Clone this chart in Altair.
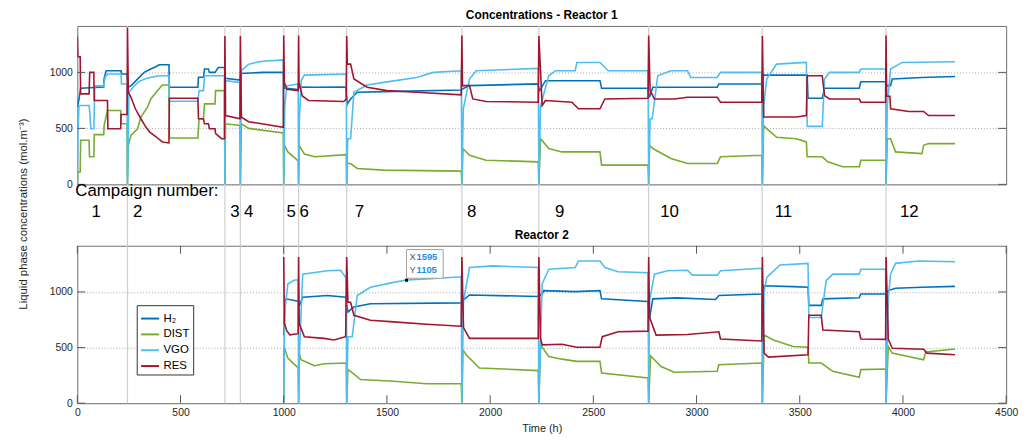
import altair as alt
import pandas as pd

# ---------------- data ----------------
SERIES = ["H₂", "DIST", "VGO", "RES"]
COLORS = ["#0072BD", "#77AC30", "#4DBEEE", "#A2142F"]

CAMPAIGN_STARTS = [243, 715, 790, 1000, 1072, 1305, 1863, 2236, 2768, 3318, 3918]
CAMPAIGN_LABELS = ["1", "2", "3", "4", "5", "6", "7", "8", "9", "10", "11", "12"]
CAMPAIGN_LABEL_T = [91, 293, 763, 830, 1036, 1099, 1367, 1910, 2337, 2869, 3421, 4031]

Y_TICKS = [0, 500, 1000]
X_TICKS = [0, 500, 1000, 1500, 2000, 2500, 3000, 3500, 4000, 4500]

DATATIP_T = [1595]
DATATIP_V = [1105]

# Reactor 1
R1_H2_T = [0, 8, 16, 128, 130, 140, 212, 214, 241,
           247, 260, 276, 300, 324, 356, 380, 396, 444, 446, 584, 587, 611, 616, 635, 640, 667, 683, 713,
           717, 788,
           792, 900, 998,
           1002, 1070,
           1074, 1150, 1300,
           1308, 1324, 1356, 1484, 1860,
           1866, 1900, 2230,
           2240, 2268, 2532, 2540, 2764,
           2772, 2788, 3100, 3108, 3316,
           3325, 3536, 3540, 3609, 3620, 3788, 3796, 3916,
           3921, 3940, 3948, 4092, 4252]
R1_H2_V = [690, 760, 858, 870, 947, 1015, 1015, 985, 985,
           867, 882, 911, 956, 1000, 1030, 1050, 1068, 1068, 867, 867, 956, 956, 1030, 1030, 1000, 1000, 1044, 1044,
           947, 932,
           990, 1000, 1000,
           860, 846,
           870, 867, 870,
           719, 763, 823, 828, 843,
           852, 882, 897,
           837, 926, 926, 858, 858,
           778, 867, 867, 897, 897,
           976, 976, 769, 769, 858, 858, 917, 917,
           882, 882, 941, 955, 964]

R1_DIST_T = [0, 2, 14, 16, 57, 59, 80, 82, 128, 130, 146, 210, 212, 241,
             243, 247, 260, 292, 308, 340, 356, 388, 412, 444, 446, 584, 590, 611, 616, 667, 670, 713,
             715, 718, 788,
             790, 795, 830, 998,
             1000, 1003, 1020, 1070,
             1072, 1074, 1100, 1150, 1303,
             1305, 1308, 1324, 1356, 1484, 1860,
             1863, 1868, 1900, 1980, 2233,
             2236, 2244, 2284, 2348, 2532, 2540, 2765,
             2768, 2772, 2788, 2876, 2956, 3100, 3116, 3316,
             3319, 3325, 3340, 3388, 3484, 3532, 3536, 3609, 3636, 3708, 3788, 3796, 3916,
             3918, 3924, 3940, 3964, 4092, 4100, 4124, 4252]
R1_DIST_V = [0, 110, 110, 394, 394, 246, 246, 444, 444, 527, 660, 660, 541, 541,
             0, 349, 438, 497, 600, 690, 763, 837, 888, 888, 414, 414, 586, 586, 719, 719, 837, 837,
             0, 541, 527,
             0, 540, 500, 460,
             0, 350, 290, 210,
             0, 350, 270, 246, 266,
             0, 186, 186, 142, 127, 118,
             0, 320, 260, 216, 201,
             0, 408, 320, 290, 290, 172, 172,
             0, 350, 320, 231, 186, 186, 246, 260,
             0, 527, 497, 420, 408, 379, 246, 246, 201, 157, 157, 216, 216,
             0, 408, 408, 290, 275, 349, 364, 364]

R1_VGO_T = [0, 3, 8, 57, 60, 66, 80, 85, 128, 135, 148, 212, 214, 241,
            243, 250, 276, 300, 340, 396, 444, 446, 584, 590, 611, 616, 713,
            715, 718, 788,
            790, 795, 830, 870, 900, 998,
            1000, 1005, 1015, 1070,
            1072, 1076, 1085, 1100, 1303,
            1305, 1310, 1324, 1340, 1404, 1484, 1644, 1724, 1860,
            1863, 1870, 1900, 1932, 2233,
            2236, 2244, 2284, 2316, 2412, 2420, 2532, 2572, 2765,
            2768, 2775, 2785, 2812, 2876, 2956, 2972, 3100, 3116, 3316,
            3319, 3325, 3340, 3388, 3532, 3536, 3609, 3620, 3644, 3788, 3796, 3916,
            3918, 3924, 3940, 3996, 4252]
R1_VGO_V = [0, 450, 704, 704, 650, 497, 497, 880, 880, 960, 985, 985, 896, 896,
            0, 823, 880, 920, 950, 970, 970, 743, 743, 837, 837, 970, 970,
            0, 926, 911,
            0, 1015, 1074, 1090, 1100, 1112,
            0, 700, 880, 896,
            0, 600, 930, 976, 985,
            0, 408, 408, 823, 888, 911, 955, 1000, 1015,
            0, 675, 941, 1015, 1036,
            0, 700, 970, 1015, 1015, 1089, 1089, 1015, 1015,
            0, 586, 586, 970, 1015, 1015, 955, 955, 1000, 1000,
            0, 700, 941, 1074, 1089, 518, 518, 941, 1000, 1000, 1030, 1030,
            0, 700, 1030, 1089, 1095]

R1_RES_T = [0, 3, 14, 16, 57, 60, 80, 82, 146, 148, 210, 212, 241,
            243, 247, 260, 281, 308, 332, 351, 383, 412, 444, 446, 584, 587, 611, 616, 635, 640, 667, 670, 699, 713,
            715, 718, 788,
            790, 795, 830, 998,
            1000, 1003, 1015, 1070,
            1072, 1074, 1090, 1120, 1290, 1303,
            1305, 1308, 1324, 1340, 1404, 1500, 1644, 1860,
            1863, 1866, 1900, 1916, 1980, 2233,
            2236, 2252, 2268, 2396, 2428, 2532, 2556, 2765,
            2768, 2775, 2796, 2892, 2956, 3100, 3116, 3316,
            3319, 3325, 3484, 3532, 3536, 3609, 3620, 3644, 3788, 3796, 3916,
            3918, 3921, 3937, 3940, 4028, 4100, 4124, 4252]
R1_RES_V = [1320, 1140, 1140, 808, 808, 1000, 1000, 749, 749, 497, 497, 624, 624,
            1400, 823, 778, 675, 586, 512, 467, 423, 379, 370, 769, 769, 586, 586, 541, 541, 497, 497, 453, 408, 408,
            1325, 615, 586,
            1325, 600, 560, 510,
            1330, 911, 850, 837,
            1330, 911, 790, 749, 740, 760,
            1325, 1074, 1074, 941, 867, 837, 823, 799,
            1330, 882, 882, 763, 740, 734,
            1325, 704, 749, 734, 675, 675, 763, 769,
            1330, 837, 763, 763, 778, 778, 734, 734,
            1325, 601, 601, 615, 970, 970, 793, 763, 763, 734, 734,
            1330, 787, 787, 675, 651, 651, 615, 615]

# Reactor 2
R2_H2_T = [1000, 1008, 1070,
           1076, 1092, 1212, 1300,
           1311, 1340, 1420, 1860,
           1871, 1900, 2230,
           2252, 2260, 2412, 2532, 2540, 2764,
           2772, 2788, 2908, 3092, 3108, 3316,
           3327, 3468, 3540, 3544, 3604, 3612, 3788, 3796, 3916,
           3929, 3964, 4092, 4252]
R2_H2_V = [612, 938, 917,
           880, 953, 968, 953,
           820, 864, 894, 902,
           929, 973, 959,
           982, 1012, 1003, 1012, 938, 914,
           760, 938, 947, 932, 968, 982,
           1056, 1048, 1042, 879, 879, 938, 947, 982, 982,
           1012, 1033, 1042, 1050]

R2_DIST_T = [1000, 1001, 1020, 1070,
             1072, 1075, 1084, 1148, 1196, 1303,
             1305, 1311, 1324, 1372, 1532, 1692, 1860,
             1863, 1868, 1884, 1948, 2233,
             2236, 2244, 2284, 2348, 2420, 2532, 2540, 2765,
             2768, 2777, 2828, 2892, 3100, 3108, 3316,
             3319, 3327, 3372, 3468, 3540, 3544, 3604, 3660, 3788, 3796, 3916,
             3918, 3929, 3948, 4100, 4110, 4252]
R2_DIST_V = [0, 509, 405, 317,
             0, 450, 391, 337, 355, 361,
             0, 302, 287, 213, 198, 175, 175,
             0, 479, 435, 317, 293,
             0, 524, 420, 396, 376, 376, 272, 228,
             0, 426, 330, 278, 287, 346, 361,
             0, 612, 568, 509, 503, 361, 361, 287, 234, 302, 308,
             0, 509, 450, 391, 460, 488]

R2_VGO_T = [1000, 1004, 1020, 1052, 1070,
            1072, 1076, 1092, 1212, 1276, 1300, 1303,
            1305, 1311, 1332, 1356, 1420, 1532, 1596, 1692, 1860,
            1863, 1871, 1900, 2012, 2233,
            2236, 2252, 2284, 2412, 2428, 2532, 2556, 2620, 2765,
            2768, 2772, 2796, 2860, 2956, 2980, 3100, 3116, 3316,
            3319, 3327, 3340, 3404, 3540, 3544, 3604, 3628, 3660, 3788, 3796, 3916,
            3918, 3929, 3940, 3964, 4076, 4252]
R2_VGO_V = [0, 805, 1071, 1107, 1107,
            0, 450, 1160, 1190, 1195, 1130, 1130,
            0, 598, 598, 968, 1042, 1086, 1107, 1116, 1136,
            0, 923, 1219, 1234, 1219,
            0, 1071, 1204, 1219, 1278, 1278, 1219, 1181, 1172,
            0, 923, 1160, 1190, 1195, 1151, 1151, 1190, 1213,
            0, 1000, 1130, 1243, 1257, 770, 770, 1101, 1160, 1160, 1204, 1204,
            0, 950, 1160, 1257, 1278, 1272]

R2_RES_T = [1000, 1003, 1015, 1030, 1070,
            1072, 1075, 1100, 1196, 1244, 1300,
            1305, 1311, 1324, 1340, 1420, 1532, 1692, 1860,
            1863, 1871, 1900, 2233,
            2236, 2244, 2252, 2348, 2420, 2532, 2543, 2620, 2765,
            2768, 2772, 2804, 2956, 3108, 3116, 3316,
            3319, 3327, 3348, 3540, 3544, 3604, 3612, 3788, 3796, 3916,
            3918, 3929, 3948, 4100, 4116, 4252]
R2_RES_V = [1314, 720, 650, 615, 625,
            1314, 716, 598, 583, 568, 598,
            1314, 908, 908, 790, 746, 731, 710, 692,
            1314, 680, 583, 583,
            1314, 583, 524, 530, 503, 503, 598, 642, 648,
            1314, 775, 612, 618, 642, 577, 559,
            1314, 450, 414, 435, 790, 790, 657, 642, 577, 574,
            1314, 574, 494, 485, 450, 435]

# ---------------- layout / style ----------------
W, H_TOP, H_BOT = 938, 160, 159
YMAX = 1415
FONT = "Liberation Sans"
GAP = 62


def series_frame(pairs):
    rows = []
    for name, ts, vs in pairs:
        for i, (t, v) in enumerate(zip(ts, vs)):
            rows.append({"series": name, "t": t, "v": v, "i": i})
    return pd.DataFrame(rows)


r1 = series_frame([("H₂", R1_H2_T, R1_H2_V), ("DIST", R1_DIST_T, R1_DIST_V),
                   ("VGO", R1_VGO_T, R1_VGO_V), ("RES", R1_RES_T, R1_RES_V)])
r2 = series_frame([("H₂", R2_H2_T, R2_H2_V), ("DIST", R2_DIST_T, R2_DIST_V),
                   ("VGO", R2_VGO_T, R2_VGO_V), ("RES", R2_RES_T, R2_RES_V)])

camp_df = pd.DataFrame({"t": CAMPAIGN_STARTS})
lab_df = pd.DataFrame({"t": CAMPAIGN_LABEL_T, "lab": CAMPAIGN_LABELS})
ytick_df = pd.DataFrame({"v": Y_TICKS})
xtick_df = pd.DataFrame({"t": X_TICKS})
tip_df = pd.DataFrame({"t": DATATIP_T, "v": DATATIP_V,
                       "xs": [str(t) for t in DATATIP_T], "ys": [str(v) for v in DATATIP_V],
                       "xl": ["X"], "yl": ["Y"]})

x_scale = alt.Scale(domain=[0, 4500], nice=False, zero=False)
y_scale = alt.Scale(domain=[0, YMAX], nice=False, zero=True)
color_scale = alt.Scale(domain=SERIES, range=COLORS)

Y_AXIS = alt.Axis(values=Y_TICKS, title=None, ticks=False, domain=False, grid=True, format="d",
                  gridDash=[1, 2], gridColor="#8c8c8c", gridWidth=0.8,
                  labelFontSize=10.5, labelColor="#262626", labelPadding=5)
X_AXIS_BOT = alt.Axis(values=X_TICKS, title="Time (h)", ticks=False, domain=False, grid=False, format="d",
                      labelFontSize=10.5, labelColor="#262626", labelPadding=4,
                      titleFontSize=11, titleFontWeight="normal", titleColor="#262626",
                      titlePadding=5, labelFlush=False)

TICK = 8
TICK_COLOR = "#555555"


def X(axis):
    return alt.X("t:Q", scale=x_scale, axis=axis)


def Y():
    return alt.Y("v:Q", scale=y_scale, axis=Y_AXIS)


def build_panel(df, height, title, x_axis, legend, rule_len, extras):
    rules = alt.Chart(camp_df).mark_rule(color="#cfcfcf", strokeWidth=1.2, clip=False).encode(
        x=X(x_axis), y=alt.value(0), y2=alt.value(rule_len))
    lines = alt.Chart(df).mark_line(strokeWidth=1.6, clip=True).encode(
        x=X(x_axis), y=Y(),
        color=alt.Color("series:N", scale=color_scale, legend=legend),
        order=alt.Order("i:Q"),
    )
    left = alt.Chart(ytick_df).mark_rule(color=TICK_COLOR).encode(
        y=Y(), x=alt.value(0), x2=alt.value(TICK))
    right = alt.Chart(ytick_df).mark_rule(color=TICK_COLOR).encode(
        y=Y(), x=alt.value(W - TICK), x2=alt.value(W))
    ttl = alt.Chart(pd.DataFrame({"s": [title]})).mark_text(
        fontSize=12, fontWeight="bold", color="black", baseline="middle", align="center"
    ).encode(text="s:N", x=alt.value(W / 2), y=alt.value(-11))
    return alt.layer(rules, lines, left, right, ttl, *extras).properties(width=W, height=height)


# ---------------- top panel extras ----------------
camp_head = alt.Chart(pd.DataFrame({"s": ["Campaign number:"]})).mark_text(
    fontSize=17, color="black", align="left", baseline="middle"
).encode(text="s:N", x=alt.value(-2), y=alt.value(167))

camp_nums = alt.Chart(lab_df).mark_text(
    fontSize=17, color="black", align="center", baseline="middle"
).encode(x=X(None), y=alt.value(188), text="lab:N")

y_title = alt.Chart(pd.DataFrame({"s": ["Liquid phase concentrations (mol.m⁻³)"]})).mark_text(
    fontSize=11.5, color="#262626", angle=270, align="center", baseline="middle"
).encode(text="s:N", x=alt.value(-54), y=alt.value(190))

top = build_panel(r1, H_TOP, "Concentrations - Reactor 1", None, None, H_TOP + GAP,
                  [camp_head, camp_nums, y_title])

# ---------------- bottom panel extras ----------------
x_ticks_bottom = alt.Chart(xtick_df).mark_rule(color=TICK_COLOR).encode(
    x=X(X_AXIS_BOT), y=alt.value(H_BOT - TICK), y2=alt.value(H_BOT))
x_ticks_top = alt.Chart(xtick_df).mark_rule(color=TICK_COLOR).encode(
    x=X(X_AXIS_BOT), y=alt.value(0), y2=alt.value(TICK))

tip_box = alt.Chart(tip_df).mark_rect(
    fill="white", stroke="#a0a0a0", strokeWidth=1, xOffset=0, x2Offset=37, yOffset=-2, y2Offset=-31
).encode(x=X(X_AXIS_BOT), x2="t:Q", y=Y(), y2="v:Q")
tip_dot = alt.Chart(tip_df).mark_square(size=9, color="black", opacity=1).encode(x=X(X_AXIS_BOT), y=Y())
tip_xl = alt.Chart(tip_df).mark_text(align="left", baseline="middle", fontSize=9.5, color="#555555",
                                     dx=3, dy=-23).encode(x=X(X_AXIS_BOT), y=Y(), text="xl:N")
tip_xs = alt.Chart(tip_df).mark_text(align="left", baseline="middle", fontSize=9.5, fontWeight="bold",
                                     color="#1e8fe6", dx=10, dy=-23).encode(x=X(X_AXIS_BOT), y=Y(), text="xs:N")
tip_yl = alt.Chart(tip_df).mark_text(align="left", baseline="middle", fontSize=9.5, color="#555555",
                                     dx=3, dy=-10).encode(x=X(X_AXIS_BOT), y=Y(), text="yl:N")
tip_ys = alt.Chart(tip_df).mark_text(align="left", baseline="middle", fontSize=9.5, fontWeight="bold",
                                     color="#1e8fe6", dx=10, dy=-10).encode(x=X(X_AXIS_BOT), y=Y(), text="ys:N")

legend = alt.Legend(orient="none", legendX=60, legendY=60, title=None,
                    symbolType="stroke", symbolStrokeWidth=2, symbolSize=330,
                    labelFontSize=11.5, labelColor="black",
                    strokeColor="#333333", fillColor="white",
                    padding=3, rowPadding=-6, labelOffset=3)

bottom = build_panel(r2, H_BOT, "Reactor 2", X_AXIS_BOT, legend, H_BOT,
                     [x_ticks_bottom, x_ticks_top, tip_box, tip_dot, tip_xl, tip_xs, tip_yl, tip_ys])

chart = alt.vconcat(top, bottom, spacing=GAP, bounds="flush").resolve_scale(
    color="independent"
).properties(
    padding={"left": 9, "top": -2, "right": 5, "bottom": 0}
).configure(font=FONT, background="white").configure_view(stroke="#6e6e6e", strokeWidth=1)

chart.save("out.html", embed_options={"renderer": "svg", "actions": False})
